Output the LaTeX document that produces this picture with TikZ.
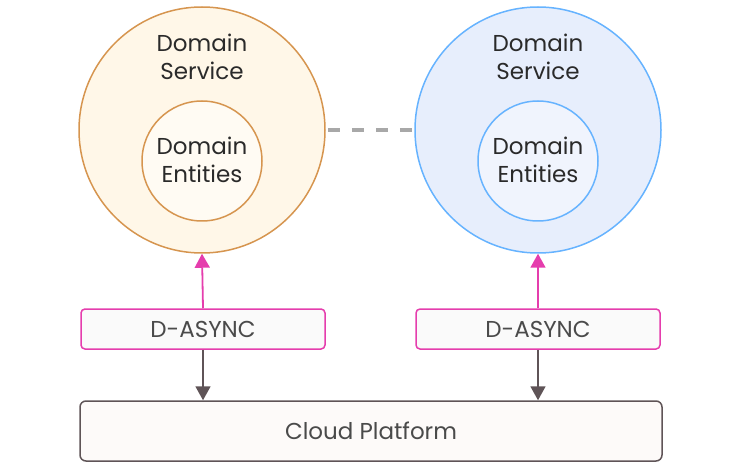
\documentclass[tikz,border=0pt]{standalone}
\usepackage{fontspec}
\setmainfont{Poppins}
\usetikzlibrary{arrows.meta}
\definecolor{orstroke}{HTML}{D6954F}
\definecolor{orfill}{HTML}{FFF7E8}
\definecolor{orinner}{HTML}{FFFBF3}
\definecolor{blstroke}{HTML}{66B3FF}
\definecolor{blfill}{HTML}{E7EEFC}
\definecolor{blinner}{HTML}{F0F4FD}
\definecolor{pinkc}{HTML}{E53DAD}
\definecolor{boxfill}{HTML}{FAFAFA}
\definecolor{cloudstroke}{HTML}{5F5457}
\definecolor{cloudfill}{HTML}{FDFAF9}
\definecolor{txt}{HTML}{2A2A2A}
\definecolor{dashc}{HTML}{A8A8A8}
\begin{document}
\begin{tikzpicture}[x=1pt,y=-1pt,
  txtstyle/.style={text=txt,font=\fontsize{23}{27.5}\selectfont,align=center},
  outerc/.style={circle,draw,line width=1.5pt,minimum size=246pt,inner sep=0pt},
  innerc/.style={circle,draw,line width=1.5pt,minimum size=120pt,inner sep=0pt},
  asyncbox/.style={draw=pinkc,fill=boxfill,rounded corners=4pt,line width=1.5pt,minimum width=244pt,minimum height=40pt,inner sep=0pt,text=txt!85,font=\fontsize{23}{26}\selectfont},
  cloudbox/.style={draw=cloudstroke,fill=cloudfill,rounded corners=6pt,line width=1.5pt,minimum width=582pt,minimum height=60pt,inner sep=0pt,text=txt!85,font=\fontsize{23}{26}\selectfont},
  pinkarrow/.style={draw=pinkc,line width=1.8pt,-{Triangle[length=14pt,width=15pt]}},
  greyarrow/.style={draw=cloudstroke,line width=1.8pt,-{Triangle[length=14pt,width=15pt]}},
]
\useasboundingbox (0,0) rectangle (740,468);
\node[outerc,draw=orstroke,fill=orfill] (os1) at (202,130) {};
\node[outerc,draw=blstroke,fill=blfill] (os2) at (538,130) {};
\node[innerc,draw=orstroke,fill=orinner] (ie1) at (202,161) {};
\node[innerc,draw=blstroke,fill=blinner] (ie2) at (538,161) {};
\node[txtstyle] (t1) at (202,57) {Domain\\Service};
\node[txtstyle] (t2) at (538,57) {Domain\\Service};
\node[txtstyle] (t3) at (202,160) {Domain\\Entities};
\node[txtstyle] (t4) at (538,160) {Domain\\Entities};
\draw[dashc,line width=4pt,dash pattern=on 12pt off 12pt,dash phase=-2pt] (os1.east) -- (os2.west);
\node[asyncbox] (a1) at (203,329) {D-ASYNC};
\node[asyncbox] (a2) at (538,329) {D-ASYNC};
\node[cloudbox] (cp) at (371,431) {Cloud Platform};
\draw[pinkarrow] (a1.north) -- (os1.south);
\draw[pinkarrow] (a2.north) -- (os2.south);
\draw[greyarrow] (a1.south) -- (a1.south |- cp.north);
\draw[greyarrow] (a2.south) -- (a2.south |- cp.north);
\end{tikzpicture}
\end{document}
